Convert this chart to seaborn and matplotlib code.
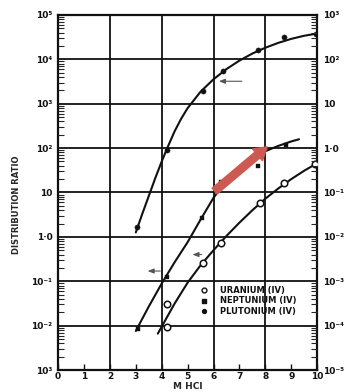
import numpy as np
import pandas as pd
import seaborn as sns
import matplotlib
matplotlib.use("Agg")
import matplotlib.pyplot as plt
from matplotlib.ticker import FixedLocator, LogLocator, NullFormatter

# curve traces (M HCl, distribution ratio on left scale)
pu_curve_x = [3.0, 3.25, 3.5, 3.75, 4.0, 4.25, 4.5, 4.75, 5.0, 5.5, 6.0, 6.5, 7.0, 7.5, 8.0, 8.5, 9.0, 9.5, 10.0]
pu_curve_y = [1.26, 3.3, 8.3, 20.9, 50, 112, 240, 457, 794, 1862, 3548, 6026, 9333, 13490, 18200, 23440, 28840, 33880, 38020]
np_curve_x = [3.0, 3.5, 4.0, 4.5, 5.0, 5.5, 6.0, 6.5, 7.0, 7.5, 8.0, 8.5, 9.0, 9.3]
np_curve_y = [0.0076, 0.0269, 0.089, 0.269, 0.759, 2.45, 7.6, 18.6, 35.5, 58.9, 85, 112, 141, 158]
u_curve_x = [3.85, 4.0, 4.5, 5.0, 5.5, 6.0, 6.5, 7.0, 7.5, 8.0, 8.5, 9.0, 9.5, 10.0]
u_curve_y = [0.0066, 0.0095, 0.0316, 0.093, 0.229, 0.5, 1.05, 2.09, 3.98, 7.24, 12.3, 20, 30.9, 45.7]

# measured points
pu_x = [3.04, 4.2, 5.58, 6.35, 7.73, 8.73, 9.96]
pu_y = [1.7, 90, 1950, 5500, 16000, 32000, 37000]
np_x = [3.08, 4.2, 5.55, 6.27, 7.7, 8.8]
np_y = [0.0085, 0.125, 2.7, 17, 40, 117]
u_x = [4.2, 4.2, 5.58, 6.3, 7.8, 8.73, 9.92]
u_y = [0.0093, 0.03, 0.26, 0.73, 5.9, 16.6, 44]

x_ticks = list(range(0, 11))
left_ticks = [1e5, 1e4, 1e3, 1e2, 10, 1, 0.1, 0.01, 0.001]
left_labels = ["10⁵", "10⁴", "10³", "10²", "10", "1·0", "10⁻¹", "10⁻²", "10³"]
right_ticks = [1e3, 1e2, 10, 1, 0.1, 0.01, 0.001, 1e-4, 1e-5]
right_labels = ["10³", "10²", "10", "1·0", "10⁻¹", "10⁻²", "10⁻³", "10⁻⁴", "10⁻⁵"]
legend_labels = ["URANIUM (IV)", "NEPTUNIUM (IV)", "PLUTONIUM (IV)"]

sns.set_theme(style="white")
plt.rcParams['font.family'] = ['DejaVu Sans']

fig = plt.figure(figsize=(3.52, 3.92), dpi=100)
ax = fig.add_axes([0.165, 0.056, 0.736, 0.906])
ax.set_yscale('log')
ax.set_xlim(0, 10)
ax.set_ylim(1e-3, 1e5)

ink = "#111111"
for cx, cy in [(pu_curve_x, pu_curve_y), (np_curve_x, np_curve_y), (u_curve_x, u_curve_y)]:
    sns.lineplot(x=cx, y=cy, ax=ax, color=ink, lw=1.5, sort=False)

sns.scatterplot(x=pu_x, y=pu_y, ax=ax, color=ink, s=14, marker='o', edgecolor=ink, zorder=5)
sns.scatterplot(x=np_x, y=np_y, ax=ax, color=ink, s=11, marker='s', edgecolor=ink, zorder=5)
sns.scatterplot(x=u_x, y=u_y, ax=ax, color='white', s=22, marker='o', edgecolor=ink, linewidth=1.1, zorder=5)

# small left-pointing axis arrows
for x0, x1, yv in [(7.2, 6.1, 3200), (4.05, 3.35, 0.17), (5.65, 5.08, 0.4)]:
    ax.annotate("", xy=(x1, yv), xytext=(x0, yv),
                arrowprops=dict(arrowstyle="-|>,head_width=0.12,head_length=0.3", color="#555555", lw=0.8))

# red highlight arrow
ax.annotate("", xy=(8.15, 117), xytext=(5.96, 9.8),
            arrowprops=dict(arrowstyle="simple,head_width=1.1,head_length=0.9,tail_width=0.55",
                            color="#cd5a52", mutation_scale=10), zorder=6)

# grid
for gx in [2, 4, 6, 8]:
    ax.axvline(gx, color=ink, lw=1.3, zorder=1)
for gy in left_ticks[1:-1]:
    ax.axhline(gy, color=ink, lw=1.3, zorder=1)

ax.xaxis.set_major_locator(FixedLocator(x_ticks))
ax.set_xticklabels([str(t) for t in x_ticks], fontsize=6.5, fontweight='bold')
ax.yaxis.set_major_locator(FixedLocator(left_ticks))
ax.set_yticklabels(left_labels, fontsize=6.5, fontweight='bold')
ax.yaxis.set_minor_locator(LogLocator(base=10, subs=np.arange(2, 10), numticks=20))
ax.yaxis.set_minor_formatter(NullFormatter())
ax.tick_params(axis='y', which='major', length=0, pad=4, colors=ink)
ax.tick_params(axis='x', which='major', direction='in', length=4, width=1, bottom=True, pad=1.5, colors=ink)
ax.tick_params(axis='y', which='minor', direction='in', length=4, width=0.8, left=True)

for s in ax.spines.values():
    s.set_color(ink)
    s.set_linewidth(1.6)

ax2 = ax.twinx()
ax2.set_yscale('log')
ax2.set_ylim(1e-5, 1e3)
ax2.yaxis.set_major_locator(FixedLocator(right_ticks))
ax2.set_yticklabels(right_labels, fontsize=6.5, fontweight='bold')
ax2.yaxis.set_minor_locator(LogLocator(base=10, subs=np.arange(2, 10), numticks=20))
ax2.yaxis.set_minor_formatter(NullFormatter())
ax2.tick_params(axis='y', which='major', length=0, pad=4, colors=ink)
ax2.tick_params(axis='y', which='minor', direction='in', length=4, width=0.8)
for s in ax2.spines.values():
    s.set_visible(False)

ax.set_xlabel("M HCl", fontsize=6.5, fontweight='bold', labelpad=0.5)
ax.set_ylabel("DISTRIBUTION RATIO", fontsize=6, fontweight='bold')
ax.yaxis.set_label_coords(-0.145, 0.465)

# legend
markers = [('o', 'white'), ('s', ink), ('o', ink)]
for i, (lab, (m, fc)) in enumerate(zip(legend_labels, markers)):
    yy = 0.225 - i * 0.03
    ax.scatter([0.565], [yy], transform=ax.transAxes, marker=m, s=12 if fc == 'white' else 8,
               facecolor=fc, edgecolor=ink, linewidth=1, zorder=6)
    ax.text(0.625, yy, lab, transform=ax.transAxes, fontsize=6, fontweight='bold',
            va='center', ha='left', color=ink)

fig.savefig("out.png", dpi=100)
